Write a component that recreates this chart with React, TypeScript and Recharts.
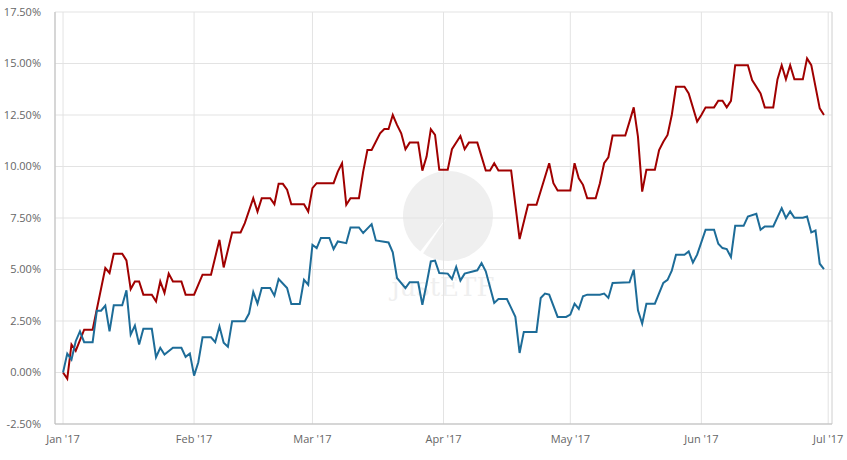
import React from 'react';
import { LineChart, Line, XAxis, YAxis, CartesianGrid, ReferenceLine } from 'recharts';

// days counted from 1 Jan 2017
const redDays = [0, 1, 2, 3, 5, 7, 10, 11, 12, 14, 15, 16, 17, 18, 19, 21, 22, 23, 24, 25, 26, 28, 29, 31, 33, 35, 37, 38, 40, 42, 43, 45, 46, 47, 49, 50, 51, 52, 53, 54, 57, 58, 59, 60, 64, 65, 66, 67, 68, 70, 71, 72, 73, 75, 76, 77, 78, 79, 80, 81, 82, 84, 85, 86, 87, 88, 89, 91, 92, 94, 95, 96, 98, 100, 101, 102, 103, 106, 108, 110, 112, 115, 116, 117, 120, 121, 122, 123, 124, 126, 127, 128, 129, 130, 133, 134, 135, 136, 137, 138, 140, 141, 142, 143, 144, 145, 147, 148, 150, 151, 152, 154, 155, 156, 157, 158, 159, 162, 163, 165, 166, 168, 169, 170, 171, 172, 173, 175, 176, 177, 179, 180];
const redValues = [0, -0.3, 1.36, 1.05, 2.08, 2.08, 5.07, 4.83, 5.77, 5.77, 5.44, 4.05, 4.42, 4.42, 3.78, 3.78, 3.45, 4.42, 3.86, 4.8, 4.42, 4.42, 3.78, 3.78, 4.75, 4.75, 6.44, 5.1, 6.8, 6.8, 7.25, 8.46, 7.81, 8.46, 8.46, 8.17, 9.16, 9.16, 8.87, 8.17, 8.17, 7.81, 8.95, 9.19, 9.19, 9.75, 10.16, 8.14, 8.46, 8.46, 9.75, 10.8, 10.8, 11.61, 11.82, 11.82, 12.5, 12.02, 11.61, 10.84, 11.16, 11.16, 9.8, 10.48, 11.81, 11.53, 9.84, 9.84, 10.84, 11.48, 10.84, 11.16, 11.16, 9.8, 9.8, 10.16, 9.8, 9.8, 6.48, 8.14, 8.14, 10.16, 9.19, 8.83, 8.83, 10.16, 9.43, 9.11, 8.46, 8.46, 9.19, 10.16, 10.45, 11.5, 11.5, 12.18, 12.87, 11.45, 8.78, 9.84, 9.84, 10.8, 11.2, 11.53, 12.5, 13.87, 13.87, 13.55, 12.18, 12.5, 12.87, 12.87, 13.19, 13.19, 12.87, 13.19, 14.92, 14.92, 14.2, 13.55, 12.87, 12.87, 14.23, 14.92, 14.23, 14.92, 14.23, 14.23, 15.25, 14.92, 12.82, 12.5];

const blueDays = [0, 1, 2, 3, 4, 5, 7, 8, 9, 10, 11, 12, 14, 15, 16, 17, 18, 19, 21, 22, 23, 24, 26, 28, 29, 30, 31, 32, 33, 35, 36, 37, 38, 39, 40, 43, 44, 45, 46, 47, 49, 50, 51, 53, 54, 56, 57, 58, 59, 60, 61, 63, 64, 65, 67, 68, 70, 71, 73, 74, 77, 78, 79, 81, 82, 84, 85, 86, 87, 88, 89, 91, 92, 93, 94, 95, 98, 99, 100, 102, 103, 105, 107, 108, 109, 112, 113, 114, 115, 117, 119, 120, 121, 122, 123, 124, 127, 128, 129, 130, 134, 135, 136, 137, 138, 140, 142, 143, 144, 145, 147, 148, 149, 150, 152, 154, 155, 156, 157, 158, 159, 161, 162, 164, 165, 166, 168, 170, 171, 172, 173, 175, 176, 177, 178, 179, 180];
const blueValues = [0, 0.92, 0.63, 1.52, 2.0, 1.47, 1.47, 3.0, 3.0, 3.25, 2.0, 3.26, 3.26, 3.99, 1.84, 2.28, 1.36, 2.12, 2.12, 0.74, 1.2, 0.87, 1.2, 1.2, 0.76, 0.92, -0.15, 0.5, 1.71, 1.71, 1.47, 2.24, 1.44, 1.25, 2.49, 2.49, 2.86, 3.91, 3.34, 4.1, 4.1, 3.73, 4.54, 4.1, 3.33, 3.33, 4.5, 4.26, 6.2, 6.04, 6.53, 6.53, 5.99, 6.36, 6.28, 7.04, 7.04, 6.77, 7.2, 6.41, 6.31, 5.83, 4.59, 4.1, 4.38, 4.38, 3.29, 4.31, 5.39, 5.43, 4.83, 4.8, 4.54, 5.12, 4.46, 4.8, 4.96, 5.31, 4.91, 3.38, 3.57, 3.57, 2.7, 0.95, 1.97, 1.97, 3.62, 3.83, 3.78, 2.7, 2.7, 2.81, 3.34, 3.09, 3.7, 3.78, 3.78, 3.83, 3.62, 4.35, 4.38, 4.99, 3.02, 2.37, 3.34, 3.34, 4.35, 4.5, 4.94, 5.72, 5.72, 5.88, 5.34, 5.72, 6.93, 6.93, 6.25, 6.04, 5.99, 5.6, 7.12, 7.12, 7.57, 7.7, 6.93, 7.09, 7.09, 7.98, 7.5, 7.82, 7.51, 7.51, 7.57, 6.8, 6.89, 5.28, 5.02];

const monthTicks = [0, 31, 59, 90, 120, 151, 181];
const monthLabels = ["Jan '17", "Feb '17", "Mar '17", "Apr '17", "May '17", "Jun '17", "Jul '17"];
const yTicks = [-2.5, 0, 2.5, 5, 7.5, 10, 12.5, 15, 17.5];

const redData = redDays.map((d, i) => ({ day: d, value: redValues[i] }));
const blueData = blueDays.map((d, i) => ({ day: d, value: blueValues[i] }));

const xMin = -1.9;
const xMax = 181.9;

const tickStyle = { fill: '#666', fontSize: 11, fontFamily: '"Open Sans", sans-serif' };

const App: React.FC = () => {
  return (
    <div style={{ position: 'relative', width: 847, height: 460, background: '#fff' }}>
      <style>{'body{margin:0;}'}</style>
      {/* watermark */}
      <svg width={847} height={460} style={{ position: 'absolute', left: 0, top: 0 }}>
        <circle cx={448} cy={216} r={45} fill="#efefef" />
        <path d="M 448 216 L 412 262 L 420 258 Z" fill="#fff" />
        <text x={443} y={296} textAnchor="middle" fontSize={26} fontFamily="'DejaVu Serif', serif" fill="#efefef">justETF</text>
      </svg>
      <div style={{ position: 'absolute', left: 0, top: 0 }}>
        <LineChart width={847} height={460} margin={{ top: 12, right: 15, bottom: 10, left: 0 }}>
          <CartesianGrid stroke="#e3e3e3" />
          <XAxis
            type="number"
            dataKey="day"
            domain={[xMin, xMax]}
            ticks={monthTicks}
            tickFormatter={(v: number) => monthLabels[monthTicks.indexOf(v)]}
            allowDataOverflow
            height={26}
            tickSize={0}
            tickMargin={11}
            axisLine={{ stroke: '#bbb' }}
            tick={tickStyle}
            interval={0}
          />
          <YAxis
            type="number"
            domain={[-2.5, 17.5]}
            ticks={yTicks}
            tickFormatter={(v: number) => v.toFixed(2) + '%'}
            width={55}
            tickSize={0}
            tickMargin={14}
            axisLine={{ stroke: '#bbb' }}
            tick={tickStyle}
            interval={0}
          />
          <ReferenceLine x={xMax} stroke="#dcdcdc" ifOverflow="extendDomain" />
          <Line
            data={redData}
            dataKey="value"
            type="linear"
            stroke="#a00000"
            strokeWidth={2}
            dot={false}
            isAnimationActive={false}
          />
          <Line
            data={blueData}
            dataKey="value"
            type="linear"
            stroke="#1d6c98"
            strokeWidth={2}
            dot={false}
            isAnimationActive={false}
          />
        </LineChart>
      </div>
    </div>
  );
};

export default App;
